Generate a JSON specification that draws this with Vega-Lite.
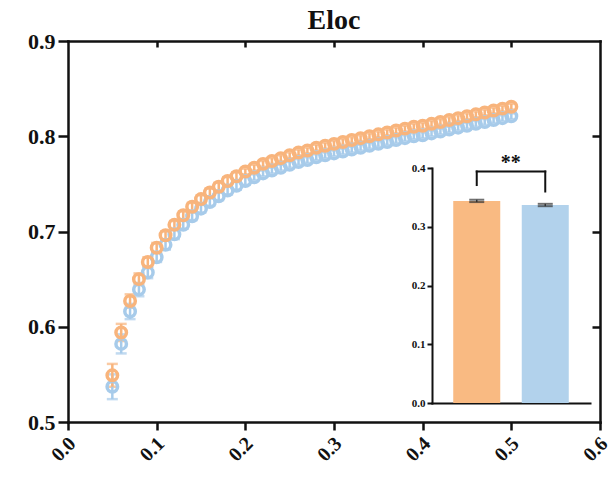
{
  "$schema": "https://vega.github.io/schema/vega-lite/v6.json",
  "width": 532,
  "height": 381,
  "autosize": {"type": "none"},
  "padding": {"left": 68, "top": 41, "right": 13, "bottom": 63},
  "config": {
    "font": "Liberation Serif",
    "view": {"stroke": null},
    "axis": {"grid": false, "domainColor": "#111", "tickColor": "#111", "labelColor": "#111", "domainCap": "square", "labelFont": "Liberation Serif", "labelFontWeight": "bold"}
  },
  "title": {"text": "Eloc", "font": "Liberation Serif", "fontSize": 28, "fontWeight": "bold", "color": "#111", "anchor": "middle", "offset": -5},
  "datasets": {
    "curve": [
      {"x":0.05,"g":"Group 2","m":0.537,"e":0.013},{"x":0.06,"g":"Group 2","m":0.582,"e":0.010},{"x":0.07,"g":"Group 2","m":0.616,"e":0.008},{"x":0.08,"g":"Group 2","m":0.639,"e":0.007},{"x":0.09,"g":"Group 2","m":0.657,"e":0.006},{"x":0.10,"g":"Group 2","m":0.673,"e":0.005},{"x":0.11,"g":"Group 2","m":0.686,"e":0.005},{"x":0.12,"g":"Group 2","m":0.697,"e":0.005},{"x":0.13,"g":"Group 2","m":0.707,"e":0.004},{"x":0.14,"g":"Group 2","m":0.716,"e":0.004},{"x":0.15,"g":"Group 2","m":0.724,"e":0.004},{"x":0.16,"g":"Group 2","m":0.731,"e":0.004},{"x":0.17,"g":"Group 2","m":0.737,"e":0.004},{"x":0.18,"g":"Group 2","m":0.743,"e":0.004},{"x":0.19,"g":"Group 2","m":0.748,"e":0.004},{"x":0.20,"g":"Group 2","m":0.753,"e":0.004},{"x":0.21,"g":"Group 2","m":0.757,"e":0.003},{"x":0.22,"g":"Group 2","m":0.761,"e":0.003},{"x":0.23,"g":"Group 2","m":0.764,"e":0.003},{"x":0.24,"g":"Group 2","m":0.767,"e":0.003},{"x":0.25,"g":"Group 2","m":0.770,"e":0.003},{"x":0.26,"g":"Group 2","m":0.773,"e":0.003},{"x":0.27,"g":"Group 2","m":0.775,"e":0.003},{"x":0.28,"g":"Group 2","m":0.778,"e":0.003},{"x":0.29,"g":"Group 2","m":0.780,"e":0.003},{"x":0.30,"g":"Group 2","m":0.782,"e":0.003},{"x":0.31,"g":"Group 2","m":0.784,"e":0.003},{"x":0.32,"g":"Group 2","m":0.786,"e":0.003},{"x":0.33,"g":"Group 2","m":0.788,"e":0.003},{"x":0.34,"g":"Group 2","m":0.790,"e":0.003},{"x":0.35,"g":"Group 2","m":0.792,"e":0.003},{"x":0.36,"g":"Group 2","m":0.794,"e":0.003},{"x":0.37,"g":"Group 2","m":0.796,"e":0.003},{"x":0.38,"g":"Group 2","m":0.798,"e":0.003},{"x":0.39,"g":"Group 2","m":0.800,"e":0.003},{"x":0.40,"g":"Group 2","m":0.801,"e":0.003},{"x":0.41,"g":"Group 2","m":0.803,"e":0.003},{"x":0.42,"g":"Group 2","m":0.805,"e":0.003},{"x":0.43,"g":"Group 2","m":0.807,"e":0.003},{"x":0.44,"g":"Group 2","m":0.809,"e":0.003},{"x":0.45,"g":"Group 2","m":0.811,"e":0.003},{"x":0.46,"g":"Group 2","m":0.813,"e":0.003},{"x":0.47,"g":"Group 2","m":0.815,"e":0.003},{"x":0.48,"g":"Group 2","m":0.817,"e":0.003},{"x":0.49,"g":"Group 2","m":0.819,"e":0.003},{"x":0.50,"g":"Group 2","m":0.821,"e":0.003},
      {"x":0.05,"g":"Group 1","m":0.549,"e":0.012},{"x":0.06,"g":"Group 1","m":0.594,"e":0.009},{"x":0.07,"g":"Group 1","m":0.627,"e":0.007},{"x":0.08,"g":"Group 1","m":0.650,"e":0.006},{"x":0.09,"g":"Group 1","m":0.668,"e":0.005},{"x":0.10,"g":"Group 1","m":0.683,"e":0.005},{"x":0.11,"g":"Group 1","m":0.696,"e":0.004},{"x":0.12,"g":"Group 1","m":0.707,"e":0.004},{"x":0.13,"g":"Group 1","m":0.717,"e":0.004},{"x":0.14,"g":"Group 1","m":0.726,"e":0.004},{"x":0.15,"g":"Group 1","m":0.734,"e":0.004},{"x":0.16,"g":"Group 1","m":0.741,"e":0.004},{"x":0.17,"g":"Group 1","m":0.747,"e":0.004},{"x":0.18,"g":"Group 1","m":0.753,"e":0.004},{"x":0.19,"g":"Group 1","m":0.758,"e":0.004},{"x":0.20,"g":"Group 1","m":0.763,"e":0.003},{"x":0.21,"g":"Group 1","m":0.767,"e":0.003},{"x":0.22,"g":"Group 1","m":0.771,"e":0.003},{"x":0.23,"g":"Group 1","m":0.774,"e":0.003},{"x":0.24,"g":"Group 1","m":0.777,"e":0.003},{"x":0.25,"g":"Group 1","m":0.780,"e":0.003},{"x":0.26,"g":"Group 1","m":0.783,"e":0.003},{"x":0.27,"g":"Group 1","m":0.785,"e":0.003},{"x":0.28,"g":"Group 1","m":0.788,"e":0.003},{"x":0.29,"g":"Group 1","m":0.790,"e":0.003},{"x":0.30,"g":"Group 1","m":0.792,"e":0.003},{"x":0.31,"g":"Group 1","m":0.794,"e":0.003},{"x":0.32,"g":"Group 1","m":0.796,"e":0.003},{"x":0.33,"g":"Group 1","m":0.798,"e":0.003},{"x":0.34,"g":"Group 1","m":0.800,"e":0.003},{"x":0.35,"g":"Group 1","m":0.802,"e":0.003},{"x":0.36,"g":"Group 1","m":0.804,"e":0.003},{"x":0.37,"g":"Group 1","m":0.806,"e":0.003},{"x":0.38,"g":"Group 1","m":0.808,"e":0.003},{"x":0.39,"g":"Group 1","m":0.810,"e":0.003},{"x":0.40,"g":"Group 1","m":0.811,"e":0.003},{"x":0.41,"g":"Group 1","m":0.813,"e":0.003},{"x":0.42,"g":"Group 1","m":0.815,"e":0.003},{"x":0.43,"g":"Group 1","m":0.817,"e":0.003},{"x":0.44,"g":"Group 1","m":0.819,"e":0.003},{"x":0.45,"g":"Group 1","m":0.821,"e":0.003},{"x":0.46,"g":"Group 1","m":0.823,"e":0.003},{"x":0.47,"g":"Group 1","m":0.825,"e":0.003},{"x":0.48,"g":"Group 1","m":0.827,"e":0.003},{"x":0.49,"g":"Group 1","m":0.829,"e":0.003},{"x":0.50,"g":"Group 1","m":0.831,"e":0.003}
    ],
    "bars": [
      {"g":"Group 1","m":0.344,"e":0.002},
      {"g":"Group 2","m":0.337,"e":0.002}
    ],
    "bracket": [
      {"a":"Group 1","b":"Group 2","y1":0.394,"y2":0.394},
      {"a":"Group 1","b":"Group 1","y1":0.394,"y2":0.371},
      {"a":"Group 2","b":"Group 2","y1":0.394,"y2":0.360}
    ],
    "sig": [
      {"g":"Group 1","y":0.409,"label":"**"}
    ]
  },
  "layer": [
    {
      "data": {"name": "curve"},
      "layer": [
        {
          "mark": {"type": "errorbar", "thickness": 2.5, "ticks": {"size": 11, "thickness": 2.5}},
          "encoding": {
            "x": {"field": "x", "type": "quantitative", "scale": {"domain": [0, 0.6], "nice": false, "zero": false}, "axis": {"orient": "bottom", "values": [0, 0.1, 0.2, 0.3, 0.4, 0.5, 0.6], "format": ".1f", "labelAngle": -45, "labelFontSize": 20, "labelOffset": -3, "tickSize": 8, "tickWidth": 2.5, "domainWidth": 2.5, "labelPadding": 3, "title": null}},
            "y": {"field": "m", "type": "quantitative", "scale": {"domain": [0.5, 0.9], "nice": false, "zero": false}, "axis": {"orient": "left", "values": [0.5, 0.6, 0.7, 0.8, 0.9], "format": ".1f", "labelFontSize": 22, "tickSize": 10, "tickWidth": 2.5, "domainWidth": 2.5, "labelPadding": 3, "title": null}},
            "yError": {"field": "e"},
            "color": {"field": "g", "type": "nominal", "scale": {"domain": ["Group 1", "Group 2"], "range": ["#F8B47C", "#A7CBEA"]}, "legend": null}
          }
        },
        {
          "mark": {"type": "point", "filled": false, "size": 110, "strokeWidth": 3.5, "opacity": 1},
          "encoding": {
            "x": {"field": "x", "type": "quantitative", "scale": {"domain": [0, 0.6], "nice": false, "zero": false}, "axis": null},
            "y": {"field": "m", "type": "quantitative", "scale": {"domain": [0.5, 0.9], "nice": false, "zero": false}, "axis": null},
            "color": {"field": "g", "type": "nominal", "scale": {"domain": ["Group 1", "Group 2"], "range": ["#F8B47C", "#A7CBEA"]}, "legend": null}
          }
        },
        {
          "mark": {"type": "point", "opacity": 0},
          "encoding": {
            "x": {"field": "x", "type": "quantitative", "scale": {"domain": [0, 0.6], "nice": false, "zero": false}, "axis": {"orient": "top", "values": [0.1, 0.2, 0.3, 0.4, 0.5], "labels": false, "tickSize": -6, "tickWidth": 2.5, "domainWidth": 2.5, "title": null}},
            "y": {"field": "m", "type": "quantitative", "scale": {"domain": [0.5, 0.9], "nice": false, "zero": false}, "axis": {"orient": "right", "values": [0.6, 0.7, 0.8], "labels": false, "tickSize": -8, "tickWidth": 2.5, "domainWidth": 2.5, "title": null}}
          }
        }
      ],
      "resolve": {"axis": {"x": "independent", "y": "independent"}}
    },
    {
      "layer": [
        {
          "data": {"name": "bars"},
          "mark": {"type": "bar"},
          "encoding": {
            "x": {"field": "g", "type": "nominal", "sort": ["Group 1", "Group 2"], "scale": {"range": [364, 522], "paddingInner": 0.314, "paddingOuter": 0.31}, "axis": {"orient": "bottom", "offset": -19, "labels": false, "ticks": false, "domainWidth": 2, "title": null}},
            "y": {"field": "m", "type": "quantitative", "scale": {"domain": [0, 0.4], "range": [362, 127], "nice": false, "zero": true}, "axis": {"orient": "left", "offset": -364, "values": [0, 0.1, 0.2, 0.3, 0.4], "format": ".1f", "labelFontSize": 11, "tickSize": 5, "tickWidth": 2, "domainWidth": 2, "labelPadding": 2, "title": null}},
            "color": {"field": "g", "type": "nominal", "scale": {"domain": ["Group 1", "Group 2"], "range": ["#F9BA82", "#B2D2EC"]}, "legend": null}
          }
        },
        {
          "data": {"name": "bars"},
          "mark": {"type": "errorbar", "color": "#333", "thickness": 1.5, "ticks": {"size": 15, "thickness": 2, "color": "#333"}},
          "encoding": {
            "x": {"field": "g", "type": "nominal", "sort": ["Group 1", "Group 2"]},
            "y": {"field": "m", "type": "quantitative"},
            "yError": {"field": "e"}
          }
        },
        {
          "data": {"name": "bracket"},
          "mark": {"type": "rule", "color": "#111", "strokeWidth": 2, "strokeCap": "square"},
          "encoding": {
            "x": {"field": "a", "type": "nominal", "bandPosition": 0.5},
            "x2": {"field": "b", "bandPosition": 0.5},
            "y": {"field": "y1", "type": "quantitative"},
            "y2": {"field": "y2"}
          }
        },
        {
          "data": {"name": "sig"},
          "mark": {"type": "text", "dx": 34, "fontSize": 20, "fontWeight": "bold", "color": "#111", "baseline": "middle", "font": "Liberation Serif"},
          "encoding": {
            "x": {"field": "g", "type": "nominal", "bandPosition": 0.5},
            "y": {"field": "y", "type": "quantitative"},
            "text": {"field": "label"}
          }
        }
      ]
    }
  ],
  "resolve": {"scale": {"x": "independent", "y": "independent", "color": "independent"}, "axis": {"x": "independent", "y": "independent"}}
}
